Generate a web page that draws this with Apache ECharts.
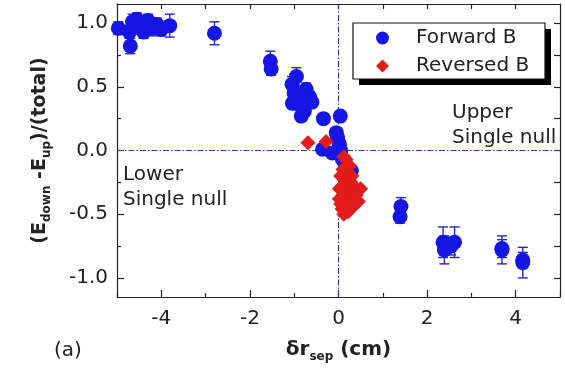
<!DOCTYPE html>
<html>
<head>
<meta charset="utf-8">
<script src="https://cdn.jsdelivr.net/npm/echarts@6/dist/echarts.min.js"></script>
<style>html,body{margin:0;padding:0;background:#fff}#c{width:565px;height:368px}</style>
</head>
<body>
<div id="c"></div>
<script>
// ---- data ----
const xMajor = [-4, -2, 0, 2, 4];
const xMinor = [-5, -3, -1, 1, 3, 5];
const xTop = [-4, -3, -2, -1, 0, 1, 2, 3, 4];
const yMajor = [-1, -0.5, 0, 0.5, 1];
const yMinor = [-0.75, -0.25, 0.25, 0.75];
const yRight = [-1, -0.75, -0.5, -0.25, 0, 0.25, 0.5, 0.75, 1];

const blueX = [-4.97, -4.65, -4.55, -4.45, -4.3, -4.2, -4.1, -4.72, -4.4, -4.0, -4.7, -3.81, -2.8,
  -1.54, -1.52, -0.95, -1.05, -1.0, -0.73, -0.65, -1.04, -0.88, -0.77, -0.84, -0.6, -0.72,
  -0.34, 0.04, -0.05, -0.02, -0.36, -0.14, 0.02, 0.09, 0.29, 0.05,
  1.41, 1.39, 2.36, 2.39, 2.62, 2.54, 3.69, 3.69, 4.16, 4.16];
const blueY = [0.96, 1.01, 1.03, 0.97, 1.02, 0.96, 0.99, 0.93, 0.93, 0.95, 0.82, 0.98, 0.92,
  0.70, 0.64, 0.58, 0.52, 0.45, 0.48, 0.42, 0.37, 0.36, 0.31, 0.27, 0.38, 0.44,
  0.25, 0.27, 0.14, 0.10, 0.01, -0.02, 0.05, -0.07, -0.16, 0.0,
  -0.44, -0.52, -0.72, -0.78, -0.72, -0.75, -0.78, -0.77, -0.88, -0.86];
const blueErr = [0.05, 0.06, 0.05, 0.06, 0.05, 0.06, 0.05, 0.05, 0.05, 0.05, 0.06, 0.09, 0.09,
  0.08, 0.05, 0.07, 0.06, 0.05, 0.05, 0.04, 0.04, 0.04, 0.04, 0.03, 0.04, 0.04,
  0, 0, 0, 0, 0, 0, 0, 0, 0, 0,
  0.07, 0.05, 0.12, 0.11, 0.12, 0.07, 0.11, 0.07, 0.12, 0.06];

const redX = [-0.69, -0.28, 0.17, 0.12, 0.25, 0.05, 0.15, 0.3, 0.08, 0.2, 0.35, 0.5, 0.1, 0.25,
  0.4, 0.05, 0.18, 0.3, 0.12, 0.22, 0.02, 0.38, 0.28, 0.1, 0.02, 0.15, 0.32, 0.45, 0.08, 0.2];
const redY = [0.06, 0.07, -0.07, -0.05, -0.12, -0.2, -0.22, -0.2, -0.28, -0.3, -0.28, -0.3, -0.35, -0.38,
  -0.35, -0.42, -0.45, -0.45, -0.5, -0.48, -0.3, -0.42, -0.25, -0.15, -0.38, -0.33, -0.36, -0.4, -0.46, -0.4];

// ---- build ----
const blueData = blueX.map((x, i) => [x, blueY[i]]);
const errData = [];
blueX.forEach((x, i) => { if (blueErr[i] > 0) errData.push([x, blueY[i] - blueErr[i], blueY[i] + blueErr[i]]); });
const redData = redX.map((x, i) => [x, redY[i]]);

const FONT = 'DejaVu Sans';
const blue = '#1616e4';
const red = '#e41b1b';
const frame = '#222';

function errRender(params, api) {
  const x = api.value(0), lo = api.value(1), hi = api.value(2);
  const p1 = api.coord([x, hi]), p2 = api.coord([x, lo]);
  const w = 5;
  const style = { stroke: '#2626c8', lineWidth: 1.4 };
  return { type: 'group', children: [
    { type: 'line', shape: { x1: p1[0], y1: p1[1], x2: p2[0], y2: p2[1] }, style },
    { type: 'line', shape: { x1: p1[0] - w, y1: p1[1], x2: p1[0] + w, y2: p1[1] }, style },
    { type: 'line', shape: { x1: p2[0] - w, y1: p2[1], x2: p2[0] + w, y2: p2[1] }, style }
  ]};
}

const baseX = { type: 'value', min: -5, max: 5, splitLine: { show: false } };
const baseY = { type: 'value', min: -1.15, max: 1.15, splitLine: { show: false } };

const chart = echarts.init(document.getElementById('c'));
chart.setOption({
  animation: false,
  textStyle: { fontFamily: FONT },
  grid: { left: 117, right: 5, top: 4, bottom: 66 },
  xAxis: [
    Object.assign({}, baseX, {
      position: 'bottom',
      axisLine: { show: true, onZero: false, lineStyle: { color: frame, width: 1.2 } },
      axisTick: { show: true, inside: true, length: 7, customValues: xMajor, lineStyle: { color: frame, width: 1.2 } },
      axisLabel: { customValues: xMajor, fontSize: 20, color: '#222', margin: 12, fontFamily: FONT },
      name: '\u03b4r{sub|sep} (cm)',
      nameLocation: 'middle', nameGap: 40,
      nameTextStyle: { fontSize: 20, fontWeight: 'bold', color: '#222', fontFamily: FONT,
        rich: { sub: { fontSize: 12, fontWeight: 'bold', color: '#222', padding: [14, 0, 0, 0], fontFamily: FONT } } }
    }),
    Object.assign({}, baseX, {
      position: 'bottom',
      axisLine: { show: false, onZero: false },
      axisTick: { show: true, inside: true, length: 4, customValues: xMinor, lineStyle: { color: frame, width: 1.2 } },
      axisLabel: { show: false }
    }),
    Object.assign({}, baseX, {
      position: 'top',
      axisLine: { show: true, onZero: false, lineStyle: { color: frame, width: 1.2 } },
      axisTick: { show: true, inside: true, length: 5, customValues: xTop, lineStyle: { color: frame, width: 1.2 } },
      axisLabel: { show: false }
    })
  ],
  yAxis: [
    Object.assign({}, baseY, {
      position: 'left',
      axisLine: { show: true, onZero: false, lineStyle: { color: frame, width: 1.2 } },
      axisTick: { show: true, inside: true, length: 7, customValues: yMajor, lineStyle: { color: frame, width: 1.2 } },
      axisLabel: { customValues: yMajor, fontSize: 20, color: '#222', margin: 9, fontFamily: FONT,
        formatter: v => v.toFixed(1) },
      name: '(E{sub|down} -E{sub|up})/(total)',
      nameLocation: 'middle', nameGap: 64, nameRotate: 90,
      nameTextStyle: { fontSize: 19, fontWeight: 'bold', color: '#222', fontFamily: FONT,
        rich: { sub: { fontSize: 12, fontWeight: 'bold', color: '#222', padding: [14, 0, 0, 0], fontFamily: FONT } } }
    }),
    Object.assign({}, baseY, {
      position: 'left',
      axisLine: { show: false, onZero: false },
      axisTick: { show: true, inside: true, length: 4, customValues: yMinor, lineStyle: { color: frame, width: 1.2 } },
      axisLabel: { show: false }
    }),
    Object.assign({}, baseY, {
      position: 'right',
      axisLine: { show: true, onZero: false, lineStyle: { color: frame, width: 1.2 } },
      axisTick: { show: true, inside: true, length: 6, customValues: yRight, lineStyle: { color: frame, width: 1.2 } },
      axisLabel: { show: false }
    })
  ],
  legend: {
    orient: 'vertical',
    left: 353, top: 23,
    padding: [5, 13, 3, 23],
    itemGap: 8,
    itemWidth: 13, itemHeight: 13,
    z: 10,
    textStyle: { fontSize: 20, color: '#222', fontFamily: FONT, padding: [0, 0, 0, 22] },
    data: ['Forward B', 'Reversed B']
  },
  graphic: [
    { type: 'rect', z: 8, shape: { x: 359, y: 29, width: 192, height: 56 }, style: { fill: '#000' } },
    { type: 'rect', z: 9, shape: { x: 353, y: 23, width: 192, height: 56 }, style: { fill: '#fff', stroke: '#111', lineWidth: 1.2 } },
    { type: 'text', left: 452, top: 100, style: { text: 'Upper\nSingle null', font: '20px "DejaVu Sans"', fill: '#222', lineHeight: 25 } },
    { type: 'text', left: 123, top: 162, style: { text: 'Lower\nSingle null', font: '20px "DejaVu Sans"', fill: '#222', lineHeight: 25 } },
    { type: 'text', left: 54, top: 341, style: { text: '(a)', font: '20px "DejaVu Sans"', fill: '#222' } }
  ],
  series: [
    {
      type: 'custom', name: 'err', xAxisIndex: 0, yAxisIndex: 0, z: 2,
      renderItem: errRender, data: errData, silent: true
    },
    {
      type: 'scatter', name: 'Forward B', xAxisIndex: 0, yAxisIndex: 0, z: 3,
      symbol: 'circle', symbolSize: 15, itemStyle: { color: blue, opacity: 1 },
      data: blueData,
      markLine: {
        z: 1, silent: true, symbol: ['none', 'none'], label: { show: false },
        lineStyle: { color: '#3a3aa0', type: [6, 2, 1.5, 2], width: 1.2 },
        emphasis: { disabled: true },
        data: [{ xAxis: 0 }, { yAxis: 0 }]
      }
    },
    {
      type: 'scatter', name: 'Reversed B', xAxisIndex: 0, yAxisIndex: 0, z: 4,
      symbol: 'diamond', symbolSize: 15, itemStyle: { color: red, opacity: 1 },
      data: redData
    }
  ]
});
</script>
</body>
</html>
